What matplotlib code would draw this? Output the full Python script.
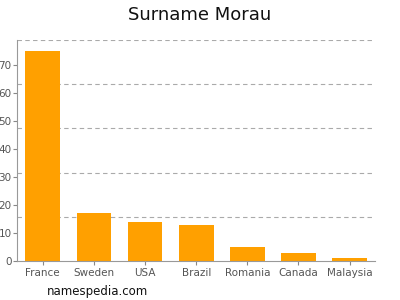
import matplotlib
matplotlib.use("Agg")
import matplotlib.pyplot as plt

countries = ["France", "Sweden", "USA", "Brazil", "Romania", "Canada", "Malaysia"]
counts = [75, 17, 14, 13, 5, 3, 1]
y_ticks = [0, 10, 20, 30, 40, 50, 60, 70]
y_max = 79

fig = plt.figure(figsize=(4, 3), dpi=100)
ax = fig.add_axes([0.043, 0.13, 0.895, 0.737])

ax.bar(range(len(countries)), counts, width=0.68, color="#ffa000", zorder=2)
ax.set_xlim(-0.5, len(countries) - 0.5)
ax.set_ylim(0, y_max)

# dashed grid at fifths of the axis, not at the tick values
for i in range(1, 6):
    ax.axhline(y_max * i / 5, color="#aaaaaa", linestyle=(0, (4, 3)), linewidth=0.8, zorder=1)

ax.set_yticks(y_ticks)
ax.set_xticks(range(len(countries)))
ax.set_xticklabels(countries)
ax.tick_params(axis="both", colors="#888888", labelcolor="#555555", labelsize=7.5,
               length=3, width=0.8)
ax.tick_params(axis="y", pad=1)
ax.tick_params(axis="x", pad=2)

for side in ("top", "right"):
    ax.spines[side].set_visible(False)
for side in ("left", "bottom"):
    ax.spines[side].set_color("#999999")
    ax.spines[side].set_linewidth(0.8)

fig.text(0.5, 0.95, "Surname Morau", ha="center", va="center", fontsize=13, color="#111111")
fig.text(0.118, 0.027, "namespedia.com", ha="left", va="center", fontsize=8.5, color="#111111")

fig.savefig("out.png", dpi=100)
